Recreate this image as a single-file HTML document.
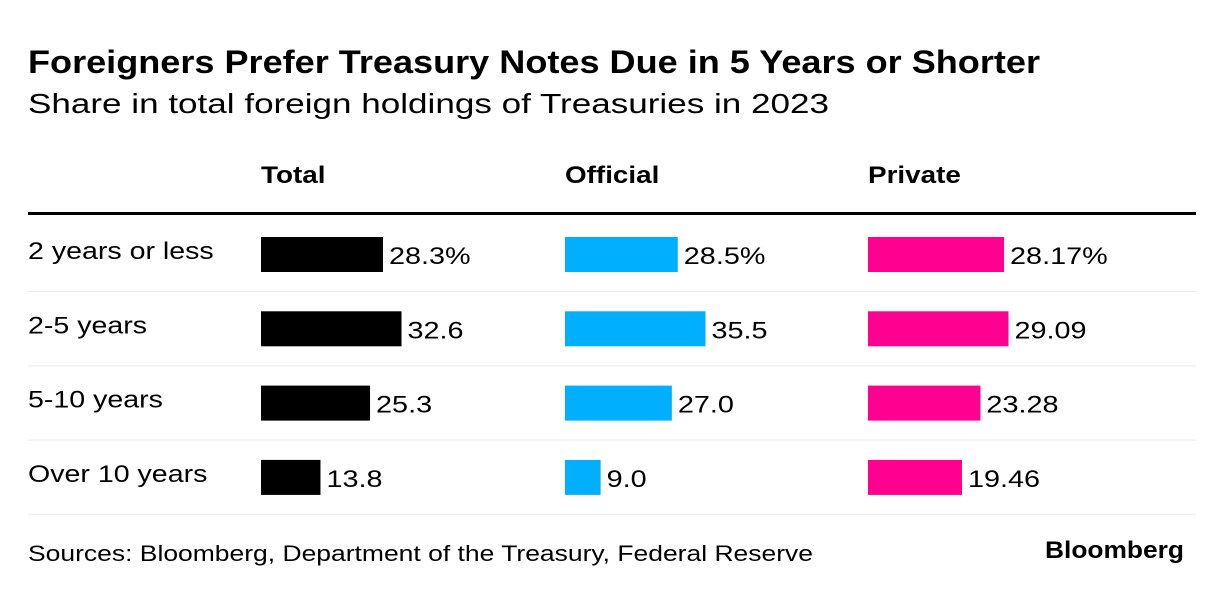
<!DOCTYPE html>
<html><head><meta charset="utf-8"><style>
body{margin:0;background:#fff;}
svg{display:block;font-family:"Liberation Sans",Arial,sans-serif;}
</style></head><body>
<svg width="1223" height="594" viewBox="0 0 1223 594" id="c">
<text x="28" y="73" font-size="32" font-weight="bold" fill="#000" textLength="1012" lengthAdjust="spacingAndGlyphs">Foreigners Prefer Treasury Notes Due in 5 Years or Shorter</text>
<text x="28" y="113" font-size="27.5" fill="#000" textLength="801" lengthAdjust="spacingAndGlyphs">Share in total foreign holdings of Treasuries in 2023</text>
<rect x="28" y="212" width="1168" height="3" fill="#000"/>
<text x="28" y="561" font-size="22.5" fill="#000" textLength="785" lengthAdjust="spacingAndGlyphs">Sources: Bloomberg, Department of the Treasury, Federal Reserve</text>
<text x="1045" y="558" font-size="24" font-weight="bold" fill="#000" textLength="139" lengthAdjust="spacingAndGlyphs">Bloomberg</text>
</svg>
<script>
const categories=["2 years or less","2-5 years","5-10 years","Over 10 years"];
const seriesNames=["Total","Official","Private"];
const totalValues=[28.3,32.6,25.3,13.8];
const officialValues=[28.5,35.5,27.0,9.0];
const privateValues=[28.17,29.09,23.28,19.46];
const totalLabels=["28.3%","32.6","25.3","13.8"];
const officialLabels=["28.5%","35.5","27.0","9.0"];
const privateLabels=["28.17%","29.09","23.28","19.46"];
const svg=document.getElementById('c');
const NS='http://www.w3.org/2000/svg';
const colX=[261,565,868], colors=['#000','#00b0ff','#ff0090'];
const allSeries=[totalValues,officialValues,privateValues];
const allLabels=[totalLabels,officialLabels,privateLabels];
const maxW=140.5;
function rowY(i){return 237+i*74.3;}
function mk(t,a){const e=document.createElementNS(NS,t);for(const k in a)e.setAttribute(k,a[k]);svg.appendChild(e);return e;}
function widen(e,f){const w=e.getComputedTextLength();e.setAttribute('textLength',w*f);e.setAttribute('lengthAdjust','spacingAndGlyphs');}
seriesNames.forEach((n,j)=>{
  const t=mk('text',{x:colX[j],y:183,'font-size':24,'font-weight':'bold',fill:'#000'});
  
  
  t.textContent=n;
  widen(t,1.16);
});
categories.forEach((c,i)=>{
  const y=rowY(i);
  const t=mk('text',{x:28,y:y+22,'font-size':24,fill:'#000'});
  
  
  t.textContent=c;
  widen(t,1.19);
  const l=mk('rect',{x:28,y:y+54,width:1168,height:1,fill:'#ececec'});
  
  
  allSeries.forEach((vals,j)=>{
    const mx=Math.max(...vals);
    const w=vals[i]/mx*maxW;
    const b=mk('rect',{x:colX[j],y:y,width:w,height:35,fill:colors[j]});
    
    
    const v=mk('text',{x:colX[j]+w+6,y:y+27,'font-size':24,fill:'#000'});
    
    
    v.textContent=allLabels[j][i];
    widen(v,1.2);
  });
});
</script>
</body></html>
